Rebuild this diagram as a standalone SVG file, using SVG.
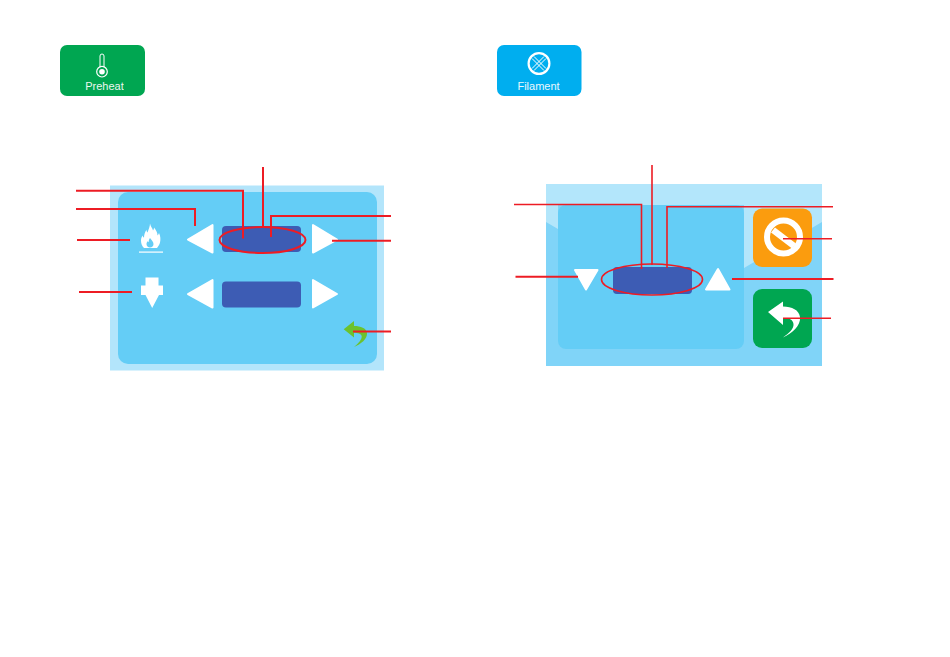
<svg xmlns="http://www.w3.org/2000/svg" width="950" height="657" viewBox="0 0 950 657">
<style>
.lbl{font-family:"Liberation Sans",Arial,sans-serif;font-size:11px;fill:#fff;text-anchor:middle;opacity:.92}
.inner{fill:#64CDF6}
.field{fill:#3D5CB4}
.tri{fill:#fff;stroke:#fff;stroke-width:2;stroke-linejoin:round}
.ln{fill:none;stroke:#ED1C24;stroke-width:2}
.thin{stroke-width:1.600}
.ic{fill:none;stroke:#fff}
</style>
<rect width="950" height="657" fill="#fff"/>
<g id="preheat-button">
<rect x="60" y="45" width="85" height="51" rx="7" fill="#00A651"/>
<path class="ic" stroke-width="1" d="M100 67.500V56a2 2 0 0 1 4 0V67.500"/>
<circle class="ic" stroke-width="1.200" cx="102" cy="71.700" r="5.300"/>
<circle cx="102" cy="71.700" r="2.800" fill="#fff"/>
<text class="lbl" x="104.500" y="89.500">Preheat</text>
</g>
<g id="filament-button">
<rect x="497" y="45" width="84.500" height="51" rx="7" fill="#00AEEF"/>
<circle class="ic" stroke-width="2.200" cx="539" cy="63.500" r="10.400"/>
<path class="ic" stroke-width="1" d="M532 58.500l12 12M534 56.500l12 12M546 58.500l-12 12M544 56.500l-12 12"/>
<text class="lbl" x="538.500" y="89.500">Filament</text>
</g>
<g id="preheat-panel">
<rect x="110" y="185.500" width="274" height="185" fill="#B3E5FB"/>
<rect class="inner" x="118" y="192" width="259" height="172" rx="10"/>
</g>
<g id="flame-icon">
<path fill="#fff" d="M150 223.500c.5 3 2.500 4.500 3 7 .8-1 1-2 1-3 2.500 3 3.500 5.500 3.500 8 .8-.7 1.300-1.500 1.500-2.500 1.500 3 1.800 6.500 1 9.500-.5 2-1.500 3.500-3 5.500h-13c-2-2-3-4.500-3-7.500 0-2 .7-3.500 1.500-5 .2 1 .7 1.800 1.500 2.300 0-3 1-6 2.500-8 0 1.200.3 2 1 2.700 1-3 2.500-6 2.500-9z"/>
<path fill="#64CDF6" d="M150 238c1 1.500 3.500 3.500 3.500 6 0 2-1.500 3.500-3.500 3.500s-3.500-1.500-3.500-3.500c0-1.200.5-2 1.200-2.800.2.500.5.800 1 1 0-1.500.3-3 1.300-4.200z"/>
<rect x="139" y="251.500" width="24" height="1.200" fill="#fff"/>
</g>
<g id="nozzle-icon">
<path fill="#fff" d="M145.500 277.500h13v8h4.500v9.500h-4l-6.800 13-6.700-13h-4.500v-9.500h4.500z"/>
</g>
<g id="preheat-controls">
<path class="tri" d="M188 239.500L212.500 225V252.500Z"/>
<path class="tri" d="M188 294L212.500 280V307.500Z"/>
<path class="tri" d="M313 225V252.500L337 239.500Z"/>
<path class="tri" d="M313 280V307.500L337 294Z"/>
<rect class="field" x="222" y="226" width="79" height="26" rx="4"/>
<rect class="field" x="222" y="281.500" width="79" height="26" rx="4"/>
</g>
<g id="green-back-icon">
<path fill="#6CC22E" d="M343.700 329.300L354 321V326C361 326 366 328 367 333C367.500 339 361 344 354 347C359 343 362 339 361.700 336C361 333.500 358 332.700 354 332.700V337.500Z"/>
</g>
<g id="filament-panel">
<rect x="546" y="184" width="276" height="182" fill="#80D4F8"/>
<path fill="#B3E6FB" d="M546 184H822V222L744 268V205H558V229L546 222Z"/>
<rect class="inner" x="558" y="205" width="186" height="144" rx="8"/>
</g>
<g id="filament-controls">
<path class="tri" d="M575 270H597.500L586 289.500Z"/>
<path class="tri" d="M706 289.500H729.500L718 269Z"/>
<rect class="field" x="613" y="267" width="79" height="27" rx="4"/>
</g>
<g id="cancel-button">
<rect x="753" y="208.500" width="59" height="58.500" rx="9" fill="#FB9C0E"/>
<circle cx="783.500" cy="237" r="16.500" fill="none" stroke="#fff" stroke-width="6"/>
<path d="M773 230L794 246" stroke="#fff" stroke-width="6.500" fill="none"/>
</g>
<g id="back-button">
<rect x="753" y="289" width="59" height="59" rx="9" fill="#00A651"/>
<path fill="#fff" d="M768 312L783 301.500V306.500C792 306.500 799 310 800 317C801 326 792 333 783 337.500C789 333 794 329 793.500 324C793 319.500 789 318 783 318V325Z"/>
</g>
<g id="connectors">
<path class="ln" d="M76 190.700H243V238.500"/>
<path class="ln" d="M76 209H195V226"/>
<path class="ln" d="M77 240H130"/>
<path class="ln" d="M79 292H132"/>
<path class="ln" d="M263 167V227"/>
<path class="ln" d="M391 216H271V237"/>
<path class="ln" d="M391 240.700H332"/>
<path class="ln" d="M391 331.500H353"/>
<ellipse class="ln" cx="262.500" cy="240" rx="43" ry="13"/>
<path class="ln thin" d="M514 204.500H641.500V269"/>
<path class="ln thin" d="M652 165V265"/>
<path class="ln thin" d="M833 206.700H667V268"/>
<path class="ln thin" d="M832 238.700H783"/>
<path class="ln" d="M833.500 279H732"/>
<path class="ln thin" d="M831 318.300H783"/>
<path class="ln" d="M515.500 276.700H578"/>
<ellipse class="ln thin" cx="652" cy="279.500" rx="50.500" ry="15.500"/>
</g>
</svg>
